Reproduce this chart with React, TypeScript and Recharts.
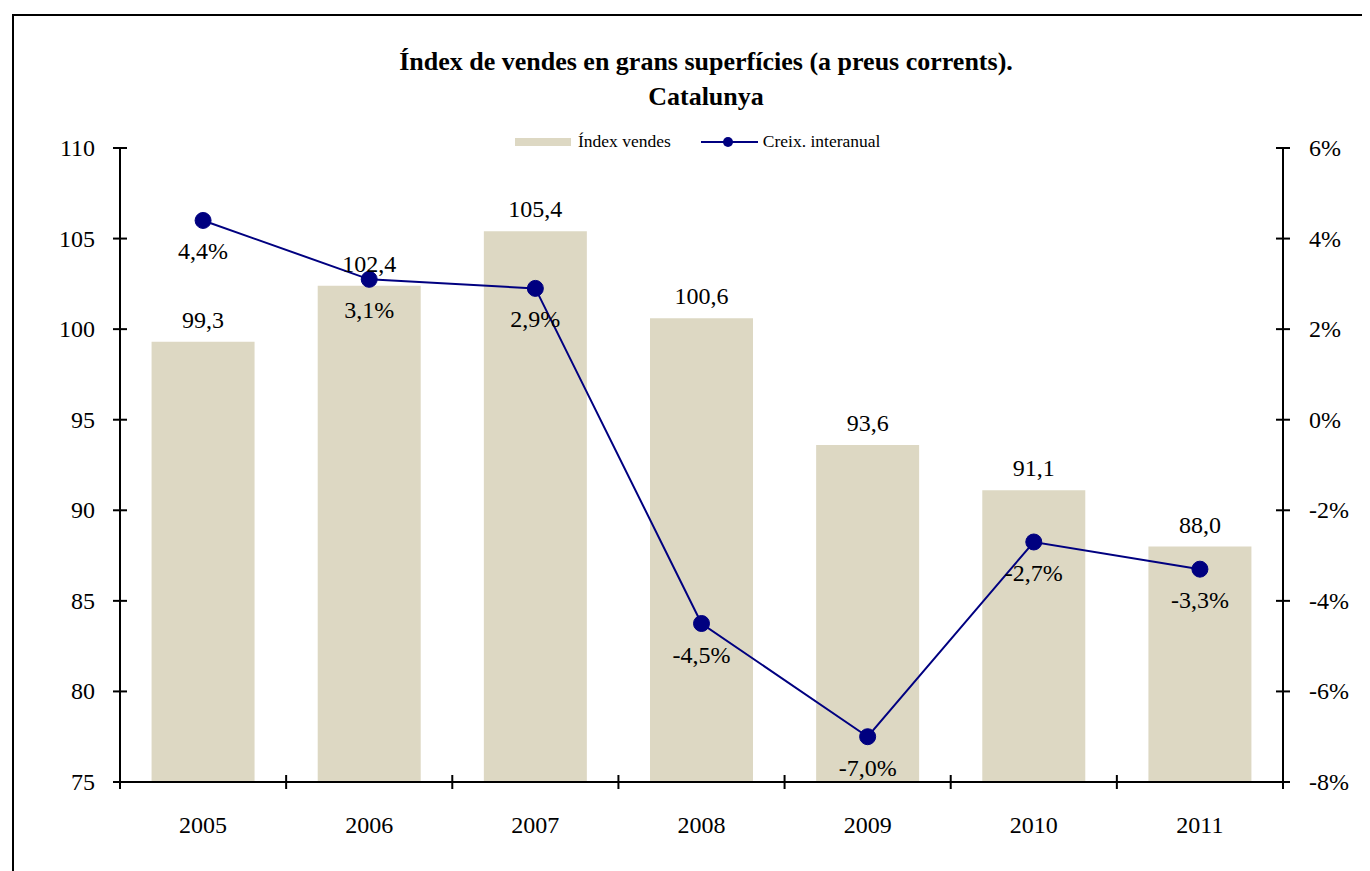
import { ComposedChart, Bar, Line, XAxis, YAxis, LabelList } from 'recharts';

const years = ['2005', '2006', '2007', '2008', '2009', '2010', '2011'];
const indexValues = [99.3, 102.4, 105.4, 100.6, 93.6, 91.1, 88.0];
const growthValues = [4.4, 3.1, 2.9, -4.5, -7.0, -2.7, -3.3];
const leftTicks = [75, 80, 85, 90, 95, 100, 105, 110];
const rightTicks = [-8, -6, -4, -2, 0, 2, 4, 6];

const data = years.map((year, i) => ({
  year,
  index: indexValues[i],
  growth: growthValues[i],
}));

const BAR_COLOR = '#DDD8C3';
const LINE_COLOR = '#000080';
const FONT = '"Liberation Serif", "Times New Roman", serif';
const FS = 24;

const comma = (v: number, digits = 1) => v.toFixed(digits).replace('.', ',');

const XTick = (props: any) => {
  const { x, y, payload, index } = props;
  const half = payload.offset || 83;
  const axisY = y - 10;
  return (
    <g>
      <line x1={x - half} x2={x - half} y1={axisY - 7} y2={axisY + 7} stroke="#000" strokeWidth={2} />
      {index === years.length - 1 && (
        <line x1={x + half} x2={x + half} y1={axisY - 7} y2={axisY + 7} stroke="#000" strokeWidth={2} />
      )}
      <text x={x} y={axisY + 51} textAnchor="middle" fontFamily={FONT} fontSize={FS} fill="#000">
        {payload.value}
      </text>
    </g>
  );
};

const LeftTick = (props: any) => {
  const { x, y, payload } = props;
  const axisX = x + 20;
  return (
    <g>
      <line x1={axisX - 7} x2={axisX + 7} y1={y} y2={y} stroke="#000" strokeWidth={2} />
      <text x={axisX - 25} y={y + 8} textAnchor="end" fontFamily={FONT} fontSize={FS} fill="#000">
        {payload.value}
      </text>
    </g>
  );
};

const RightTick = (props: any) => {
  const { x, y, payload } = props;
  const axisX = x - 20;
  return (
    <g>
      <line x1={axisX - 7} x2={axisX + 7} y1={y} y2={y} stroke="#000" strokeWidth={2} />
      <text x={axisX + 26} y={y + 8} textAnchor="start" fontFamily={FONT} fontSize={FS} fill="#000">
        {`${payload.value}%`}
      </text>
    </g>
  );
};

const App = () => {
  return (
    <div
      style={{
        position: 'relative',
        width: 1370,
        height: 871,
        margin: '-8px 0 0 -8px',
        overflow: 'hidden',
        background: '#fff',
      }}
    >
      <div
        style={{
          position: 'absolute',
          left: 12,
          top: 14,
          width: 1400,
          height: 900,
          border: '2px solid #000',
          boxSizing: 'border-box',
        }}
      />
      <div style={{ position: 'absolute', left: 0, top: 0 }}>
        <ComposedChart
          width={1370}
          height={871}
          data={data}
          margin={{ top: 148, right: 27, bottom: 39, left: 60 }}
          barCategoryGap="19%"
        >
          <XAxis
            dataKey="year"
            height={50}
            axisLine={{ stroke: '#000', strokeWidth: 2 }}
            tickLine={false}
            tickSize={0}
            tickMargin={10}
            tick={<XTick />}
            interval={0}
          />
          <YAxis
            yAxisId="left"
            width={60}
            domain={[75, 110]}
            ticks={leftTicks}
            interval={0}
            axisLine={{ stroke: '#000', strokeWidth: 2 }}
            tickLine={false}
            tickSize={0}
            tickMargin={20}
            tick={<LeftTick />}
            allowDataOverflow
          />
          <YAxis
            yAxisId="right"
            orientation="right"
            width={60}
            domain={[-8, 6]}
            ticks={rightTicks}
            interval={0}
            axisLine={{ stroke: '#000', strokeWidth: 2 }}
            tickLine={false}
            tickSize={0}
            tickMargin={20}
            tick={<RightTick />}
            allowDataOverflow
          />
          <Bar yAxisId="left" dataKey="index" fill={BAR_COLOR} isAnimationActive={false}>
            <LabelList
              dataKey="index"
              position="top"
              offset={14}
              formatter={(v: any) => comma(Number(v))}
              style={{ fontFamily: FONT, fontSize: FS, fill: '#000' }}
            />
          </Bar>
          <Line
            yAxisId="right"
            dataKey="growth"
            stroke={LINE_COLOR}
            strokeWidth={2}
            dot={{ r: 8, fill: LINE_COLOR, stroke: LINE_COLOR, strokeWidth: 1 }}
            isAnimationActive={false}
          >
            <LabelList
              dataKey="growth"
              position="bottom"
              offset={22}
              formatter={(v: any) => `${comma(Number(v))}%`}
              style={{ fontFamily: FONT, fontSize: FS, fill: '#000' }}
            />
          </Line>
        </ComposedChart>
      </div>
      <div
        style={{
          position: 'absolute',
          left: 0,
          width: 1412,
          top: 44,
          textAlign: 'center',
          fontFamily: FONT,
          fontWeight: 'bold',
          fontSize: 26,
          lineHeight: '35px',
          color: '#000',
        }}
      >
        Índex de vendes en grans superfícies (a preus corrents).
        <br />
        Catalunya
      </div>
      <div
        style={{
          position: 'absolute',
          top: 131,
          left: 515,
          display: 'flex',
          alignItems: 'center',
          fontFamily: FONT,
          fontSize: 17.5,
          color: '#000',
        }}
      >
        <span style={{ display: 'inline-block', width: 56, height: 8, background: BAR_COLOR, marginRight: 7 }} />
        <span style={{ marginRight: 30 }}>Índex vendes</span>
        <svg width={57} height={14} style={{ marginRight: 5 }}>
          <line x1={0} x2={57} y1={7} y2={7} stroke={LINE_COLOR} strokeWidth={2} />
          <circle cx={27} cy={7} r={5} fill={LINE_COLOR} />
        </svg>
        <span>Creix. interanual</span>
      </div>
      <div
        style={{
          position: 'absolute',
          left: 6,
          top: -25,
          zIndex: 5,
          fontFamily: '"Liberation Sans", Arial, sans-serif',
          fontSize: 32,
          lineHeight: '36px',
          color: '#000',
          whiteSpace: 'nowrap',
        }}
      >
        2005 = 100
      </div>
    </div>
  );
};

export default App;
